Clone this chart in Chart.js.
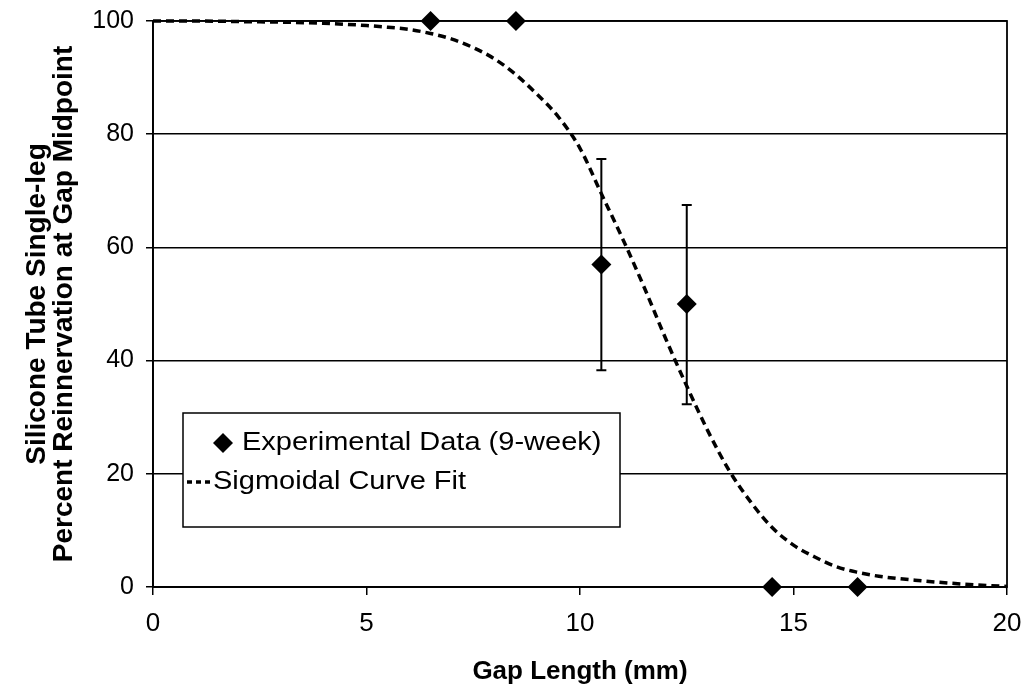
<!DOCTYPE html>
<html>
<head>
<meta charset="utf-8">
<script src="https://cdn.jsdelivr.net/npm/chart.js@4/dist/chart.umd.min.js"></script>
<style>
  html, body { margin: 0; padding: 0; background: #fff; }
  #wrap { width: 1024px; height: 692px; }
</style>
</head>
<body>
<div id="wrap"><canvas id="chart"></canvas></div>
<script>
// experimental data (9-week)
const expX = [6.5, 8.5, 10.5, 12.5, 14.5, 16.5];
const expY = [100, 100, 57, 50, 0, 0];
const errLow = [null, null, 38.3, 32.3, null, null];
const errHigh = [null, null, 75.6, 67.5, null, null];

// sigmoidal fit
const fitX = [0, 1, 2, 3, 4, 5, 5.5, 6, 6.5, 7, 7.5, 8, 8.5, 9, 9.5, 10, 10.5, 11, 11.5, 12, 12.5, 13, 13.5, 14, 14.5, 15, 15.5, 16, 16.5, 17, 18, 19, 20];
const fitY = [100, 100, 99.9, 99.8, 99.6, 99.2, 98.9, 98.5, 97.8, 96.8, 95.3, 93.3, 90.5, 87, 83, 77.5, 69.5, 61.5, 53, 44, 35.5, 27.5, 20.5, 15, 10.5, 7.4, 5.3, 3.6, 2.6, 1.9, 1.1, 0.5, 0.1];

const xTicks = [0, 5, 10, 15, 20];
const yTicks = [0, 20, 40, 60, 80, 100];

const legendLabels = ['Experimental Data (9-week)', 'Sigmoidal Curve Fit'];
const xTitle = 'Gap Length (mm)';
const yTitle = ['Silicone Tube Single-leg', 'Percent Reinnervation at Gap Midpoint'];

const FONT = '"Liberation Sans", Arial, Helvetica, sans-serif';

const errorBars = {
  id: 'errorBars',
  beforeDatasetsDraw(chart) {
    const { ctx, scales: { x, y } } = chart;
    ctx.save();
    ctx.strokeStyle = '#000';
    ctx.lineWidth = 2;
    expX.forEach((v, i) => {
      if (errLow[i] == null) return;
      const px = x.getPixelForValue(v);
      const lo = y.getPixelForValue(errLow[i]);
      const hi = y.getPixelForValue(errHigh[i]);
      ctx.beginPath();
      ctx.moveTo(px, lo); ctx.lineTo(px, hi);
      ctx.moveTo(px - 5, lo); ctx.lineTo(px + 5, lo);
      ctx.moveTo(px - 5, hi); ctx.lineTo(px + 5, hi);
      ctx.stroke();
    });
    ctx.restore();
  }
};

const frame = {
  id: 'frame',
  beforeDatasetsDraw(chart) {
    const { ctx, chartArea: a } = chart;
    ctx.save();
    ctx.strokeStyle = '#000';
    ctx.lineWidth = 1.8;
    ctx.strokeRect(a.left, a.top, a.right - a.left, a.bottom - a.top);
    ctx.restore();
  }
};

const boxLegend = {
  id: 'boxLegend',
  afterDraw(chart) {
    const { ctx, chartArea: a } = chart;
    const left = a.left + 30, top = a.top + 392, w = 437, h = 114;
    ctx.save();
    ctx.fillStyle = '#fff';
    ctx.fillRect(left, top, w, h);
    ctx.strokeStyle = '#000';
    ctx.lineWidth = 1.5;
    ctx.strokeRect(left, top, w, h);

    // diamond
    const dx = left + 40, dy = top + 30;
    ctx.fillStyle = '#000';
    ctx.beginPath();
    ctx.moveTo(dx - 10, dy); ctx.lineTo(dx, dy - 10); ctx.lineTo(dx + 10, dy); ctx.lineTo(dx, dy + 10);
    ctx.closePath();
    ctx.fill();

    // dashes
    const ly = top + 69;
    ctx.setLineDash([5, 4]);
    ctx.lineWidth = 3.5;
    ctx.beginPath();
    ctx.moveTo(left + 4, ly); ctx.lineTo(left + 27, ly);
    ctx.stroke();
    ctx.setLineDash([]);

    ctx.font = '25px ' + FONT;
    ctx.textBaseline = 'middle';
    ctx.fillStyle = '#000';
    [[left + 59, dy, legendLabels[0]], [left + 30, ly, legendLabels[1]]].forEach(([tx, ty, s]) => {
      ctx.save();
      ctx.translate(tx, ty);
      ctx.scale(1.16, 1);
      ctx.fillText(s, 0, 0);
      ctx.restore();
    });
    ctx.restore();
  }
};

new Chart(document.getElementById('chart'), {
  type: 'scatter',
  data: {
    datasets: [
      {
        label: legendLabels[0],
        data: expX.map((v, i) => ({ x: v, y: expY[i] })),
        pointStyle: 'rectRot',
        pointRadius: 10,
        backgroundColor: '#000',
        borderColor: '#000',
        borderWidth: 0,
        showLine: false,
        clip: false
      },
      {
        label: legendLabels[1],
        data: fitX.map((v, i) => ({ x: v, y: fitY[i] })),
        showLine: true,
        pointRadius: 0,
        borderColor: '#000',
        borderWidth: 3.5,
        borderDash: [8, 5],
        cubicInterpolationMode: 'monotone',
        clip: false
      }
    ]
  },
  options: {
    responsive: true,
    maintainAspectRatio: false,
    animation: false,
    layout: {
      padding: { top: 21, right: 17, left: 0, bottom: 0 }
    },
    plugins: {
      legend: { display: false },
      tooltip: { enabled: false }
    },
    scales: {
      x: {
        type: 'linear',
        min: 0,
        max: 20,
        afterBuildTicks: s => { s.ticks = xTicks.map(v => ({ value: v })); },
        afterFit: s => { s.height = 105; s.paddingLeft = 0; s.paddingRight = 0; },
        grid: { drawOnChartArea: false, tickLength: 8, color: '#000', lineWidth: 1.5 },
        border: { color: '#000', width: 1.8 },
        ticks: { color: '#000', padding: 13, maxRotation: 0, font: { family: FONT, size: 26 } },
        title: {
          display: true,
          text: xTitle,
          color: '#000',
          font: { family: FONT, size: 26, weight: 'bold' },
          padding: { top: 0, bottom: 5 }
        }
      },
      y: {
        min: 0,
        max: 100,
        afterBuildTicks: s => { s.ticks = yTicks.map(v => ({ value: v })); },
        afterFit: s => { s.width = 153; s.paddingTop = 0; s.paddingBottom = 0; },
        grid: { color: '#000', lineWidth: 1.5, tickLength: 7 },
        border: { color: '#000', width: 1.8 },
        ticks: { color: '#000', padding: 12, font: { family: FONT, size: 25 } },
        title: {
          display: true,
          text: yTitle,
          color: '#000',
          font: { family: FONT, size: 28, weight: 'bold', lineHeight: 0.95 },
          padding: { top: 24, bottom: 0 }
        }
      }
    }
  },
  plugins: [errorBars, frame, boxLegend]
});
</script>
</body>
</html>
